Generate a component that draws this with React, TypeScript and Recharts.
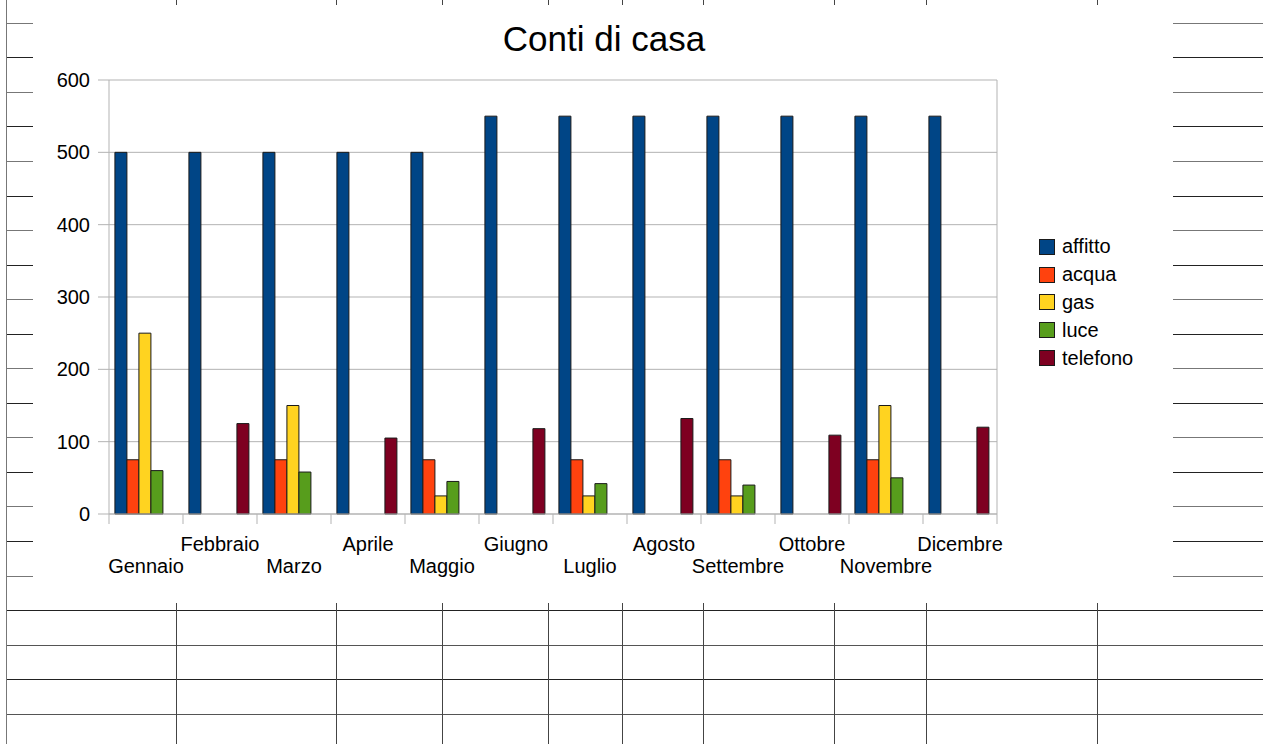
import React from "react";
import { BarChart, Bar, XAxis, YAxis, CartesianGrid } from "recharts";

const months = [
  "Gennaio", "Febbraio", "Marzo", "Aprile", "Maggio", "Giugno",
  "Luglio", "Agosto", "Settembre", "Ottobre", "Novembre", "Dicembre",
];

// null = empty cell (nothing drawn)
const affitto = [500, 500, 500, 500, 500, 550, 550, 550, 550, 550, 550, 550];
const acqua = [75, null, 75, null, 75, null, 75, null, 75, null, 75, null];
const gas = [250, null, 150, null, 25, null, 25, null, 25, null, 150, null];
const luce = [60, null, 58, null, 45, null, 42, null, 40, null, 50, null];
const telefono = [null, 125, null, 105, null, 118, null, 132, null, 109, null, 120];

const yTicks = [0, 100, 200, 300, 400, 500, 600];

const series = [
  { key: "affitto", values: affitto, color: "#004586" },
  { key: "acqua", values: acqua, color: "#ff420e" },
  { key: "gas", values: gas, color: "#ffd320" },
  { key: "luce", values: luce, color: "#579d1c" },
  { key: "telefono", values: telefono, color: "#7e0021" },
];

const data = months.map((m, i) => {
  const row: Record<string, any> = { month: m };
  series.forEach((s) => (row[s.key] = s.values[i]));
  return row;
});

const FONT = "'Liberation Sans', Arial, sans-serif";
const AXIS = "#b3b3b3";

// spreadsheet background behind the chart object
const sheetCols = [176, 336, 442, 548, 622, 703, 834, 926, 1097];
const rowY = (k: number) => 22.8 + 34.55 * k;

const Sheet = () => {
  const lines: React.ReactNode[] = [];
  for (let k = 0; k <= 16; k++) {
    const y = Math.round(rowY(k)) + 0.5;
    const c = k % 2 ? "#222" : "#777";
    lines.push(<line key={"l" + k} x1={6} x2={33} y1={y} y2={y} stroke={c} />);
    lines.push(<line key={"r" + k} x1={1173} x2={1263} y1={y} y2={y} stroke={c} />);
  }
  for (let k = 17; k <= 20; k++) {
    const y = Math.round(rowY(k)) + 0.5;
    lines.push(<line key={"b" + k} x1={6} x2={1263} y1={y} y2={y} stroke={k % 2 ? "#222" : "#555"} />);
  }
  sheetCols.forEach((x) => {
    lines.push(<line key={"t" + x} x1={x + 0.5} x2={x + 0.5} y1={0} y2={5} stroke="#444" />);
    lines.push(<line key={"v" + x} x1={x + 0.5} x2={x + 0.5} y1={603} y2={744} stroke="#444" />);
  });
  lines.push(<line key="border" x1={6.5} x2={6.5} y1={0} y2={744} stroke="#777" />);
  return (
    <svg width={1263} height={744} style={{ position: "absolute", left: 0, top: 0 }}>
      {lines}
    </svg>
  );
};

// staggered month labels + tick marks on the category boundaries
const MonthTick = (props: any) => {
  const { x, y, payload, index, visibleTicksCount } = props;
  const half = payload.offset || 37;
  const dy = index % 2 === 0 ? 59 : 37;
  const last = index === (visibleTicksCount ?? months.length) - 1;
  return (
    <g>
      <line x1={x - half} x2={x - half} y1={y} y2={y + 10} stroke={AXIS} />
      {last && <line x1={x + half} x2={x + half} y1={y} y2={y + 10} stroke={AXIS} />}
      <text x={x} y={y + dy} textAnchor="middle" fill="#000" fontSize={20} fontFamily={FONT}>
        {payload.value}
      </text>
    </g>
  );
};

const App = () => {
  return (
    <div style={{ position: "absolute", left: 0, top: 0, width: 1263, height: 744, background: "#fff", overflow: "hidden" }}>
      <Sheet />
      <svg width={1263} height={80} style={{ position: "absolute", left: 0, top: 0 }}>
        <text x={604} y={51} textAnchor="middle" fontSize={35} fontFamily={FONT} fill="#000">
          Conti di casa
        </text>
      </svg>
      <div style={{ position: "absolute", left: 0, top: 0 }}>
        <BarChart
          width={1263}
          height={744}
          data={data}
          margin={{ top: 80, right: 265, bottom: 160, left: 49 }}
          barCategoryGap="8%"
          barGap={0}
        >
          <CartesianGrid xAxisId="cat" yAxisId="left" vertical={false} stroke={AXIS} />
          <XAxis
            xAxisId="cat"
            dataKey="month"
            interval={0}
            height={70}
            tickSize={0}
            tickMargin={0}
            tickLine={false}
            axisLine={{ stroke: AXIS }}
            tick={<MonthTick />}
          />
          <YAxis
            yAxisId="left"
            domain={[0, 600]}
            ticks={yTicks}
            width={60}
            tickSize={11}
            tickMargin={8}
            axisLine={{ stroke: AXIS }}
            tickLine={{ stroke: AXIS }}
            tick={{ fill: "#000", fontSize: 20, fontFamily: FONT }}
          />
          <YAxis
            yAxisId="right"
            orientation="right"
            domain={[0, 600]}
            width={1}
            tick={false}
            tickLine={false}
            axisLine={{ stroke: AXIS }}
          />
          {series.map((s) => (
            <Bar
              key={s.key}
              xAxisId="cat"
              yAxisId="left"
              dataKey={s.key}
              fill={s.color}
              stroke="#1a1a1a"
              strokeWidth={1}
              isAnimationActive={false}
            />
          ))}
        </BarChart>
      </div>
      <div style={{ position: "absolute", left: 1039, top: 233, fontFamily: FONT, fontSize: 20 }}>
        {series.map((s) => (
          <div key={s.key} style={{ display: "flex", alignItems: "center", height: 27.8 }}>
            <span
              style={{
                display: "inline-block",
                width: 14,
                height: 14,
                background: s.color,
                border: "1px solid #1a1a1a",
                marginRight: 7,
              }}
            />
            <span>{s.key}</span>
          </div>
        ))}
      </div>
    </div>
  );
};

export default App;
